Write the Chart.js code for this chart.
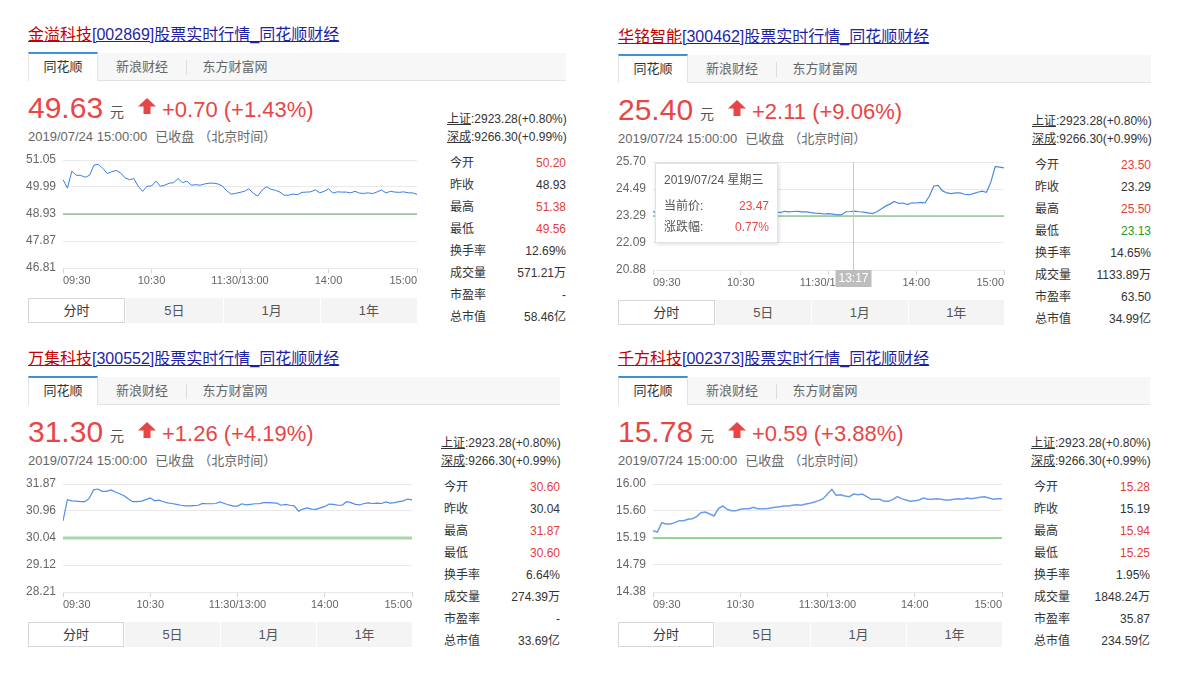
<!DOCTYPE html>
<html>
<head>
<meta charset="utf-8">
<script src="https://cdn.jsdelivr.net/npm/chart.js@4.4.0/dist/chart.umd.min.js"></script>
<style>
body{margin:0;background:#fff;font-family:"Liberation Sans",Arial,"Noto Sans CJK SC",sans-serif;color:#333;}
.panel{position:absolute;}
.title{position:absolute;left:0;top:1px;font-size:16px;line-height:20px;white-space:nowrap;}
.title .nm{color:#c40000;text-decoration:underline;}
.title .cd{color:#1f1fa5;text-decoration:underline;}
.tabbar{position:absolute;left:0;top:29px;height:27px;background:#f7f7f7;border-bottom:1px solid #e3e3e3;}
.tab{position:absolute;top:0;height:27px;line-height:28px;font-size:13px;color:#666;text-align:center;}
.tab.on{background:#fff;color:#333;border-top:2px solid #3f8fdf;border-left:1px solid #e3e3e3;border-right:1px solid #e3e3e3;line-height:25px;top:-1px;box-sizing:border-box;height:29px;}
.sep{position:absolute;top:7px;width:1px;height:15px;background:#ddd;}
.px{position:absolute;left:0;top:69px;font-size:30px;line-height:30px;color:#e84646;}
.yuan{position:absolute;left:82px;top:81px;font-size:14px;line-height:14px;color:#555;}
.arrow{position:absolute;left:110px;top:74px;}
.chg{position:absolute;left:134px;top:75px;font-size:22px;line-height:22px;color:#e84646;white-space:nowrap;}
.date{position:absolute;left:0;top:105px;font-size:13px;line-height:15px;color:#666;white-space:nowrap;}
.date span{margin-left:8px;}
.info{position:absolute;top:0;width:121px;font-size:12px;}
.idx{position:absolute;left:2px;height:16px;line-height:16px;white-space:nowrap;color:#333;}
.idx u{text-decoration:underline;}
.row{position:absolute;left:5px;right:0;height:18px;line-height:18px;}
.row .v{position:absolute;right:0;top:0;}
.btabs{position:absolute;left:0;top:274px;height:25px;background:#f4f4f4;}
.btab{position:absolute;top:0;height:25px;line-height:25px;font-size:13px;color:#555;text-align:center;box-sizing:border-box;border-left:1px solid #fff;}
.btab.on{background:#fff;border:1px solid #d6d6d6;color:#333;line-height:23px;}
canvas{position:absolute;left:-3px;top:126px;}
.tip{position:absolute;background:#fff;border:1px solid #e2e2e2;box-shadow:1px 1px 4px rgba(0,0,0,0.15);font-size:12px;color:#555;}
.tip div{position:absolute;left:8px;right:8px;height:16px;line-height:16px;white-space:nowrap;}
.tip b{font-weight:normal;color:#e84646;position:absolute;right:0;top:0;}
</style>
</head>
<body>
<script>
// sample times, minutes since 09:30 (11:30 and 13:00 share minute 120)
var minutes = [];
for (var m = 0; m <= 240; m += 3) minutes.push(m);
var timeTicks = [0, 60, 120, 180, 240];
var timeLabels = ['09:30', '10:30', '11:30/13:00', '14:00', '15:00'];

var stockNames = ['金溢科技', '华铭智能', '万集科技', '千方科技'];
var stockCodes = ['002869', '300462', '300552', '002373'];
var lastPrices = ['49.63', '25.40', '31.30', '15.78'];
var changeTexts = ['+0.70 (+1.43%)', '+2.11 (+9.06%)', '+1.26 (+4.19%)', '+0.59 (+3.88%)'];
var preCloses = [48.93, 23.29, 30.04, 15.19];
var quoteTime = '2019/07/24 15:00:00';
var indexSH = '2923.28(+0.80%)';
var indexSZ = '9266.30(+0.99%)';

var yTicks1 = [46.81, 47.87, 48.93, 49.99, 51.05];
var yTicks2 = [20.88, 22.09, 23.29, 24.49, 25.70];
var yTicks3 = [28.21, 29.12, 30.04, 30.96, 31.87];
var yTicks4 = [14.38, 14.79, 15.19, 15.60, 16.00];

var series1 = [50.28, 49.95, 50.61, 50.45, 50.45, 50.37, 50.45, 50.85, 50.88, 50.72, 50.52, 50.59, 50.64, 50.55, 50.35, 50.28, 50.32, 50.02, 49.82, 50.02, 50.03, 50.22, 50.02, 50.06, 50.14, 50.16, 50.32, 50.16, 50.22, 50.06, 50.08, 50.06, 50.11, 50.14, 50.14, 50.11, 50.03, 49.84, 49.71, 49.74, 49.78,
  49.82, 49.92, 49.75, 49.63, 49.87, 50.00, 49.90, 49.86, 49.79, 49.67, 49.67, 49.71, 49.69, 49.78, 49.79, 49.80, 49.88, 49.76, 49.82, 49.92, 49.75, 49.80, 49.79, 49.79, 49.76, 49.82, 49.75, 49.74, 49.76, 49.73, 49.80, 49.87, 49.76, 49.82, 49.79, 49.78, 49.80, 49.76, 49.76, 49.70];
var series2 = [23.50, 23.38, 23.30, 23.25, 23.35, 23.42, 23.48, 23.45, 23.40, 23.44, 23.50, 23.52, 23.47, 23.43, 23.46, 23.50, 23.48, 23.45, 23.42, 23.44, 23.47, 23.49, 23.46, 23.44, 23.47, 23.50, 23.48, 23.46, 23.48, 23.44, 23.50, 23.47, 23.49, 23.50, 23.47, 23.47, 23.44, 23.42, 23.41, 23.38,
  23.40, 23.37, 23.34, 23.35, 23.48, 23.49, 23.51, 23.48, 23.46, 23.43, 23.40, 23.48, 23.60, 23.73, 23.82, 23.94, 23.85, 23.87, 23.80, 23.88, 23.87, 23.90, 23.88, 24.18, 24.63, 24.66, 24.41, 24.32, 24.29, 24.32, 24.32, 24.26, 24.24, 24.29, 24.35, 24.40, 24.35, 24.80, 25.50, 25.47, 25.44];
var series3 = [30.62, 31.34, 31.30, 31.29, 31.27, 31.27, 31.38, 31.67, 31.70, 31.62, 31.62, 31.67, 31.60, 31.54, 31.47, 31.36, 31.27, 31.27, 31.29, 31.34, 31.40, 31.30, 31.32, 31.27, 31.23, 31.21, 31.18, 31.15, 31.13, 31.13, 31.14, 31.15, 31.21, 31.20, 31.20, 31.21, 31.26, 31.21, 31.16, 31.12, 31.12,
  31.20, 31.16, 31.18, 31.20, 31.20, 31.24, 31.24, 31.23, 31.22, 31.15, 31.18, 31.15, 31.13, 30.95, 31.02, 31.06, 31.02, 31.01, 31.06, 31.11, 31.19, 31.18, 31.15, 31.15, 31.27, 31.24, 31.18, 31.16, 31.21, 31.23, 31.21, 31.22, 31.21, 31.26, 31.22, 31.24, 31.27, 31.30, 31.36, 31.33];
var series4 = [15.30, 15.28, 15.42, 15.40, 15.40, 15.42, 15.45, 15.45, 15.47, 15.48, 15.51, 15.57, 15.58, 15.55, 15.52, 15.63, 15.67, 15.62, 15.60, 15.60, 15.62, 15.63, 15.63, 15.65, 15.63, 15.63, 15.63, 15.64, 15.65, 15.66, 15.67, 15.67, 15.68, 15.69, 15.68, 15.70, 15.71, 15.73, 15.75, 15.78,
  15.85, 15.92, 15.83, 15.84, 15.82, 15.81, 15.85, 15.84, 15.85, 15.81, 15.77, 15.77, 15.77, 15.74, 15.74, 15.77, 15.81, 15.78, 15.76, 15.74, 15.75, 15.76, 15.79, 15.77, 15.77, 15.78, 15.77, 15.76, 15.76, 15.77, 15.78, 15.77, 15.79, 15.78, 15.79, 15.80, 15.81, 15.79, 15.77, 15.78, 15.78];

var infoLabels = ['今开', '昨收', '最高', '最低', '换手率', '成交量', '市盈率', '总市值'];
var info1 = ['50.20', '48.93', '51.38', '49.56', '12.69%', '571.21万', '-', '58.46亿'];
var info2 = ['23.50', '23.29', '25.50', '23.13', '14.65%', '1133.89万', '63.50', '34.99亿'];
var info3 = ['30.60', '30.04', '31.87', '30.60', '6.64%', '274.39万', '-', '33.69亿'];
var info4 = ['15.28', '15.19', '15.94', '15.25', '1.95%', '1848.24万', '35.87', '234.59亿'];

// hover state shown on the 2nd chart
var tipTitle = '2019/07/24 星期三';
var tipMinute = 137;
var tipTime = '13:17';
var tipPrice = '23.47';
var tipPct = '0.77%';

var yTicksAll = [yTicks1, yTicks2, yTicks3, yTicks4];
var seriesAll = [series1, series2, series3, series4];
var infoAll = [info1, info2, info3, info4];

// layout
var panelX = [28, 618, 28, 618];
var panelY = [24, 26, 348, 348];
var panelW = [538, 533, 532, 532];
var plotW = [354, 351, 349, 349];
var lineColors = ['#3a7ddf', '#4a8ae4', '#4f8de8', '#6a9dea'];
var lineWidths = [1, 1.2, 1.2, 1.5];
var greenColors = ['#5aa85a', '#5fae5f', '#a8d6a8', '#74c874'];
var greenWidths = [1, 1, 3, 1.5];

Chart.defaults.font.family = '"Liberation Sans", Arial, sans-serif';

function crossPlugin() {
  return {
    id: 'cross',
    afterDatasetsDraw: function(chart) {
      var ctx = chart.ctx, a = chart.chartArea;
      var x = Math.round(chart.scales.x.getPixelForValue(tipMinute)) + 0.5;
      ctx.save();
      ctx.strokeStyle = '#c8c8c8';
      ctx.lineWidth = 1;
      ctx.beginPath();
      ctx.moveTo(x, a.top);
      ctx.lineTo(x, a.bottom);
      ctx.stroke();
      ctx.fillStyle = '#bdbdbd';
      ctx.fillRect(x - 18, a.bottom, 36, 17);
      ctx.fillStyle = '#fff';
      ctx.font = '12px "Liberation Sans", Arial, sans-serif';
      ctx.textAlign = 'center';
      ctx.textBaseline = 'middle';
      ctx.fillText(tipTime, x, a.bottom + 9);
      ctx.restore();
    }
  };
}

function buildChart(canvas, k) {
  var yt = yTicksAll[k];
  var pts = minutes.map(function(mm, i) { return {x: mm, y: seriesAll[k][i]}; });
  new Chart(canvas, {
    type: 'line',
    data: {
      datasets: [
        {data: pts, borderColor: lineColors[k], borderWidth: lineWidths[k], pointRadius: 0, tension: 0, order: 0},
        {data: [{x: 0, y: preCloses[k]}, {x: 240, y: preCloses[k]}], borderColor: greenColors[k], borderWidth: greenWidths[k], pointRadius: 0, order: 1}
      ]
    },
    options: {
      animation: false,
      responsive: false,
      events: [],
      layout: {padding: {top: 0, right: 2, left: 0, bottom: 0}},
      plugins: {legend: {display: false}, tooltip: {enabled: false}},
      scales: {
        x: {
          type: 'linear', min: 0, max: 240,
          afterFit: function(s) { s.height = 22; },
          afterBuildTicks: function(s) { s.ticks = timeTicks.map(function(v) { return {value: v}; }); },
          ticks: {
            autoSkip: false, maxRotation: 0, align: 'inner', padding: 1, color: '#666',
            font: {size: 11},
            callback: function(v) { return timeLabels[timeTicks.indexOf(v)]; }
          },
          grid: {drawOnChartArea: false, drawTicks: true, tickLength: 5, color: '#d6d6d6'},
          border: {display: false}
        },
        y: {
          min: yt[0], max: yt[yt.length - 1],
          afterFit: function(s) { s.width = 38; },
          afterBuildTicks: function(s) { s.ticks = yt.map(function(v) { return {value: v}; }); },
          ticks: {
            padding: 7, color: '#666', font: {size: 12, lineHeight: 0.5},
            callback: function(v) { return v.toFixed(2); }
          },
          grid: {color: '#e9e9e9', drawTicks: false},
          border: {display: false}
        }
      }
    },
    plugins: k === 1 ? [crossPlugin()] : []
  });
}

function valColor(label, val, k) {
  if (['今开', '最高', '最低'].indexOf(label) < 0) return '#333';
  var v = parseFloat(val);
  if (v > preCloses[k]) return '#e33d3d';
  if (v < preCloses[k]) return '#1e9a1e';
  return '#333';
}

for (var k = 0; k < 4; k++) {
  var p = document.createElement('div');
  p.className = 'panel';
  p.style.left = panelX[k] + 'px';
  p.style.top = panelY[k] + 'px';
  p.style.width = panelW[k] + 'px';
  var W = panelW[k];
  var chartW = 38 + plotW[k] + 2;
  var h = '';
  h += '<div class="title"><span class="nm">' + stockNames[k] + '</span><span class="cd">[' + stockCodes[k] + ']股票实时行情_同花顺财经</span></div>';
  h += '<div class="tabbar" style="width:' + W + 'px">' +
       '<div class="tab on" style="left:0;width:70px">同花顺</div>' +
       '<div class="tab" style="left:70px;width:88px">新浪财经</div>' +
       '<div class="sep" style="left:158px"></div>' +
       '<div class="tab" style="left:158px;width:98px">东方财富网</div></div>';
  h += '<div class="px">' + lastPrices[k] + '</div><div class="yuan">元</div>';
  h += '<svg class="arrow" width="18" height="16" viewBox="0 0 18 16"><polygon points="9,0 18,8.5 12.5,8.5 12.5,16 5.5,16 5.5,8.5 0,8.5" fill="#e84646"/></svg>';
  h += '<div class="chg">' + changeTexts[k] + '</div>';
  h += '<div class="date">' + quoteTime + '<span>已收盘</span><span style="margin-left:4px">（北京时间）</span></div>';
  h += '<div class="info" style="left:' + (W - 121) + 'px">';
  h += '<div class="idx" style="top:87px"><u>上证</u>:' + indexSH + '</div>';
  h += '<div class="idx" style="top:105px"><u>深成</u>:' + indexSZ + '</div>';
  for (var r = 0; r < infoLabels.length; r++) {
    var val = infoAll[k][r];
    h += '<div class="row" style="top:' + (129.5 + r * 22) + 'px">' + infoLabels[r] +
         '<span class="v" style="color:' + valColor(infoLabels[r], val, k) + '">' + val + '</span></div>';
  }
  h += '</div>';
  var bw = (35 + plotW[k]) / 4;
  h += '<div class="btabs" style="width:' + (35 + plotW[k]) + 'px">' +
       '<div class="btab on" style="left:0;width:' + bw + 'px">分时</div>' +
       '<div class="btab" style="left:' + bw + 'px;width:' + bw + 'px">5日</div>' +
       '<div class="btab" style="left:' + (2 * bw) + 'px;width:' + bw + 'px">1月</div>' +
       '<div class="btab" style="left:' + (3 * bw) + 'px;width:' + bw + 'px">1年</div></div>';
  h += '<canvas width="' + chartW + '" height="140"></canvas>';
  if (k === 1) {
    h += '<div class="tip" style="left:37px;top:137px;width:121px;height:78px">' +
         '<div style="top:8px">' + tipTitle + '</div>' +
         '<div style="top:34px">当前价:<b>' + tipPrice + '</b></div>' +
         '<div style="top:55px">涨跌幅:<b>' + tipPct + '</b></div></div>';
  }
  p.innerHTML = h;
  document.body.appendChild(p);
  buildChart(p.querySelector('canvas'), k);
}
</script>
</body>
</html>
